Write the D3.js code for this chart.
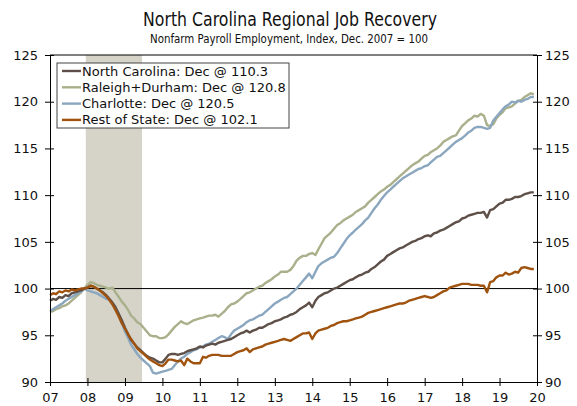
<!DOCTYPE html>
<html>
<head>
<meta charset="utf-8">
<script src="https://cdn.jsdelivr.net/npm/d3@7"></script>
<style>
  body { margin: 0; background: #fff; }
  svg { display: block; font-family: Verdana, 'DejaVu Sans', sans-serif; }
</style>
</head>
<body>
<div id="chart"></div>
<script>
'use strict';

// Monthly index values, Jan 2007 .. Dec 2019 (one row per year)
const startMonth = new Date(2007, 0, 1);

const ncValues = [
  98.7, 98.9, 98.8, 99.1, 99.0, 99.3, 99.2, 99.5, 99.6, 99.7, 99.8, 100.0,
  100.1, 100.3, 100.2, 100.0, 99.8, 99.6, 99.3, 98.9, 98.5, 98.0, 97.3, 96.6,
  95.8, 95.1, 94.5, 94.1, 93.7, 93.4, 93.1, 92.8, 92.6, 92.5, 92.3, 92.1,
  92.1, 92.5, 92.9, 93.0, 93.0, 92.9, 93.0, 93.1, 93.3, 93.4, 93.5, 93.6,
  93.8, 93.7, 93.9, 94.0, 94.1, 94.0, 94.2, 94.3, 94.4, 94.5, 94.6, 94.8,
  95.0, 95.2, 95.3, 95.5, 95.3, 95.5, 95.6, 95.8, 95.8, 96.0, 96.2, 96.3,
  96.5, 96.6, 96.7, 96.9, 97.0, 97.2, 97.3, 97.5, 97.8, 98.0, 98.2, 98.5,
  98.0, 98.7, 99.1, 99.3, 99.5, 99.6, 99.8, 100.0, 100.1, 100.3, 100.5, 100.7,
  100.9, 101.0, 101.2, 101.4, 101.5, 101.7, 101.8, 102.1, 102.3, 102.6, 102.9, 103.1,
  103.5, 103.7, 103.9, 104.1, 104.3, 104.4, 104.6, 104.8, 105.0, 105.1, 105.3, 105.4,
  105.6, 105.7, 105.6, 105.9, 106.0, 106.2, 106.3, 106.5, 106.7, 106.9, 107.1, 107.2,
  107.5, 107.6, 107.8, 107.9, 108.0, 108.1, 108.1, 108.2, 107.6, 108.4, 108.5, 108.8,
  109.1, 109.2, 109.5, 109.5, 109.6, 109.8, 109.8, 109.9, 110.1, 110.2, 110.3, 110.3
];

const rdValues = [
  97.5, 97.6, 97.8, 97.9, 98.1, 98.2, 98.4, 98.7, 99.0, 99.3, 99.6, 100.0,
  100.4, 100.7, 100.6, 100.4, 100.3, 100.2, 100.1, 100.0, 100.1, 99.6, 99.1, 98.6,
  98.2, 97.7, 97.1, 96.8, 96.4, 96.2, 95.8, 95.4, 95.0, 94.9, 94.9, 94.7,
  94.7, 94.8, 95.1, 95.5, 95.9, 96.2, 96.5, 96.3, 96.2, 96.4, 96.6, 96.7,
  96.8, 96.9, 97.0, 97.1, 97.1, 97.2, 97.0, 97.3, 97.6, 98.0, 98.3, 98.4,
  98.6, 98.9, 99.2, 99.5, 99.6, 99.8, 100.0, 100.2, 100.3, 100.6, 100.8, 101.0,
  101.3, 101.5, 101.8, 101.8, 101.8, 102.0, 102.4, 103.0, 103.3, 103.5, 103.5, 103.7,
  103.8, 103.6, 104.2, 104.8, 105.4, 105.7, 106.0, 106.4, 106.8, 107.0, 107.3, 107.5,
  107.7, 107.9, 108.2, 108.4, 108.6, 108.8, 109.2, 109.5, 109.8, 110.1, 110.4, 110.6,
  110.9, 111.1, 111.4, 111.7, 112.0, 112.3, 112.6, 112.9, 113.2, 113.4, 113.6, 113.9,
  114.2, 114.3, 114.6, 114.8, 115.0, 115.3, 115.7, 115.9, 116.1, 116.3, 116.4, 116.9,
  117.4, 117.7, 118.0, 118.2, 118.5, 118.4, 118.7, 118.5, 117.5, 117.4, 117.6, 118.2,
  118.6, 118.9, 119.3, 119.4, 119.5, 119.8, 120.1, 120.2, 120.5, 120.7, 120.9, 120.8
];

const cltValues = [
  97.6, 97.8, 98.0, 98.2, 98.4, 98.7, 98.9, 99.1, 99.3, 99.5, 99.7, 100.0,
  99.8, 99.7, 99.6, 99.5, 99.3, 99.1, 98.9, 98.8, 98.4, 97.9, 97.2, 96.3,
  95.4, 94.7, 94.0, 93.5, 93.0, 92.6, 92.3, 92.0, 91.7, 91.0, 90.9, 91.0,
  91.1, 91.2, 91.3, 91.4, 91.8, 92.2, 92.5, 92.7, 93.0, 93.2, 93.4, 93.5,
  93.7, 93.8, 94.0, 94.1, 94.3, 94.5, 94.7, 94.9, 94.8, 94.6, 95.1, 95.5,
  95.7, 95.9, 96.1, 96.4, 96.6, 96.7, 96.9, 97.1, 97.2, 97.5, 97.8, 98.1,
  98.4, 98.6, 98.8, 99.0, 99.1, 99.4, 99.7, 100.0, 100.4, 100.8, 101.2, 101.6,
  101.1, 101.8, 102.4, 102.7, 102.9, 103.1, 103.3, 103.4, 103.8, 104.3, 104.8, 105.3,
  105.7, 106.0, 106.3, 106.6, 106.9, 107.3, 107.6, 108.1, 108.6, 109.0, 109.5, 109.9,
  110.3, 110.6, 110.9, 111.2, 111.5, 111.8, 112.0, 112.2, 112.4, 112.6, 112.8, 112.9,
  113.1, 113.2, 113.5, 113.8, 114.1, 114.2, 114.5, 114.8, 115.1, 115.4, 115.7, 115.9,
  116.1, 116.4, 116.7, 116.9, 117.2, 117.3, 117.3, 117.2, 117.1, 117.2, 118.0, 118.4,
  118.8, 119.2, 119.5, 119.7, 120.0, 119.9, 120.1, 120.0, 120.2, 120.3, 120.5, 120.5
];

const rosValues = [
  99.3, 99.5, 99.4, 99.7, 99.6, 99.8, 99.7, 99.9, 99.8, 99.9, 100.0, 100.0,
  100.1, 100.3, 100.2, 100.0, 99.8, 99.5, 99.2, 98.8, 98.3, 97.7, 97.0, 96.3,
  95.7, 95.1, 94.6, 94.1, 93.6, 93.3, 93.0, 92.7, 92.4, 92.2, 92.0, 91.8,
  91.7, 92.0, 92.4, 92.4, 92.3, 92.2, 92.3, 91.8, 92.5, 92.2, 92.0, 92.0,
  92.0, 92.7, 92.6, 92.8, 92.9, 92.9, 92.9, 92.8, 92.8, 92.8, 92.8, 93.0,
  93.2, 93.3, 93.4, 93.6, 93.2, 93.5, 93.6, 93.7, 93.8, 94.0, 94.1, 94.2,
  94.3, 94.4, 94.5, 94.6, 94.5, 94.4, 94.6, 94.8, 95.0, 95.2, 95.2, 95.3,
  94.6, 95.2, 95.5, 95.6, 95.7, 95.8, 96.0, 96.1, 96.3, 96.4, 96.5, 96.5,
  96.6, 96.7, 96.8, 96.9, 97.0, 97.2, 97.4, 97.5, 97.6, 97.7, 97.8, 97.9,
  98.0, 98.1, 98.2, 98.3, 98.4, 98.4, 98.5, 98.7, 98.8, 98.9, 99.0, 99.1,
  99.2, 99.1, 99.0, 99.1, 99.3, 99.5, 99.7, 99.8, 100.1, 100.2, 100.3, 100.4,
  100.5, 100.5, 100.5, 100.4, 100.4, 100.4, 100.3, 100.3, 99.6, 100.7, 100.8, 101.2,
  101.4, 101.4, 101.7, 101.5, 101.6, 101.8, 101.7, 102.2, 102.3, 102.2, 102.1, 102.1
];

const seriesNames = [
  'North Carolina: Dec @ 110.3',
  'Raleigh+Durham: Dec @ 120.8',
  'Charlotte: Dec @ 120.5',
  'Rest of State: Dec @ 102.1'
];
const seriesColors = ['#5e5049', '#a9b08b', '#8ba7bf', '#a0530f'];

const yTicks = [90, 95, 100, 105, 110, 115, 120, 125];
const xTickYears = [2007, 2008, 2009, 2010, 2011, 2012, 2013, 2014, 2015, 2016, 2017, 2018, 2019, 2020];
const xTickLabels = ['07', '08', '09', '10', '11', '12', '13', '14', '15', '16', '17', '18', '19', '20'];

// Recession shading (Dec 2007 - Jun 2009)
const recession = [new Date(2007, 11, 16), new Date(2009, 5, 16)];

class RecoveryChart {
  #scaleX;
  #scaleY;

  constructor(container, width, height, margin) {
    this.width = width;
    this.height = height;
    this.margin = margin; // [top, bottom, left, right]

    this.svg = d3.select(container)
      .append('svg')
      .attr('width', this.width)
      .attr('height', this.height);

    this.chart = this.svg.append('g')
      .attr('transform', `translate(${this.margin[2]},${this.margin[0]})`);

    this.#scaleX = d3.scaleTime();
    this.#scaleY = d3.scaleLinear();
  }

  #updateScales() {
    let chartWidth = this.width - this.margin[2] - this.margin[3];
    let chartHeight = this.height - this.margin[0] - this.margin[1];
    this.chartWidth = chartWidth;
    this.chartHeight = chartHeight;

    this.#scaleX.domain([new Date(2007, 0, 1), new Date(2020, 0, 1)]).range([0, chartWidth]);
    this.#scaleY.domain([90, 125]).range([chartHeight, 0]);
  }

  render(series) {
    this.series = series;
    this.#updateScales();
    const x = this.#scaleX, y = this.#scaleY;
    const w = this.chartWidth, h = this.chartHeight;

    // Titles (squeezed to the reference's width)
    this.svg.append('text')
      .attr('x', 290).attr('y', 26)
      .attr('text-anchor', 'middle')
      .attr('font-size', 19)
      .attr('textLength', 294).attr('lengthAdjust', 'spacingAndGlyphs')
      .attr('fill', '#111')
      .text('North Carolina Regional Job Recovery');
    this.svg.append('text')
      .attr('x', 289).attr('y', 43)
      .attr('text-anchor', 'middle')
      .attr('font-size', 12)
      .attr('textLength', 278).attr('lengthAdjust', 'spacingAndGlyphs')
      .attr('fill', '#111')
      .text('Nonfarm Payroll Employment, Index, Dec. 2007 = 100');

    // Recession bar
    this.chart.append('rect')
      .attr('x', x(recession[0]))
      .attr('y', 0)
      .attr('width', x(recession[1]) - x(recession[0]))
      .attr('height', h)
      .attr('fill', '#d6d3c8');

    // Reference line at 100
    this.chart.append('line')
      .attr('x1', 0).attr('x2', w)
      .attr('y1', y(100)).attr('y2', y(100))
      .attr('stroke', '#000').attr('stroke-width', 1);

    // Lines
    const line = d3.line()
      .x((d, i) => x(d3.timeMonth.offset(startMonth, i)))
      .y(d => y(d));

    const drawOrder = [1, 2, 0, 3];
    drawOrder.forEach(k => {
      this.chart.append('path')
        .datum(this.series[k])
        .attr('fill', 'none')
        .attr('stroke', seriesColors[k])
        .attr('stroke-width', 2.4)
        .attr('stroke-linejoin', 'round')
        .attr('d', line);
    });

    // Frame top line
    this.chart.append('line')
      .attr('x1', 0).attr('x2', w).attr('y1', 0).attr('y2', 0)
      .attr('stroke', '#000');

    const styleAxis = g => {
      g.select('.domain').attr('stroke', '#000');
      g.selectAll('.tick line').attr('stroke', '#000');
      g.selectAll('.tick text').attr('fill', '#111').attr('font-size', 13)
        .attr('font-family', "Verdana, 'DejaVu Sans', sans-serif");
    };

    // x-axis
    this.chart.append('g')
      .attr('transform', `translate(0,${h})`)
      .call(d3.axisBottom(x)
        .tickValues(xTickYears.map(yr => new Date(yr, 0, 1)))
        .tickFormat((d, i) => xTickLabels[i])
        .tickSizeOuter(0))
      .call(styleAxis)
      .call(g => g.selectAll('.tick line').attr('y1', -4).attr('y2', 4))
      .call(g => g.selectAll('.tick text').attr('y', 11));

    // left y-axis
    this.chart.append('g')
      .call(d3.axisLeft(y).tickValues(yTicks).tickSizeOuter(0))
      .call(styleAxis)
      .call(g => g.selectAll('.tick line').attr('x1', -5).attr('x2', 4))
      .call(g => g.selectAll('.tick text').attr('x', -12));

    // right y-axis
    this.chart.append('g')
      .attr('transform', `translate(${w},0)`)
      .call(d3.axisRight(y).tickValues(yTicks).tickSizeOuter(0))
      .call(styleAxis)
      .call(g => g.selectAll('.tick line').attr('x1', -4).attr('x2', 5))
      .call(g => g.selectAll('.tick text').attr('x', 8));

    // Legend
    const legend = this.svg.append('g').attr('transform', 'translate(57,63)');
    legend.append('rect')
      .attr('width', 232).attr('height', 65)
      .attr('fill', '#fff').attr('stroke', '#444').attr('stroke-width', 1);
    seriesNames.forEach((name, k) => {
      const row = legend.append('g').attr('transform', `translate(0,${8 + k * 16.3})`);
      row.append('line')
        .attr('x1', 5).attr('x2', 24)
        .attr('stroke', seriesColors[k]).attr('stroke-width', 2.4);
      row.append('text')
        .attr('x', 25).attr('dy', '0.35em')
        .attr('font-size', 13).attr('fill', '#111')
        .text(name);
    });
  }
}

const recoveryChart = new RecoveryChart('#chart', 577, 406, [55, 24, 50, 40]);
recoveryChart.render([ncValues, rdValues, cltValues, rosValues]);
</script>
</body>
</html>
